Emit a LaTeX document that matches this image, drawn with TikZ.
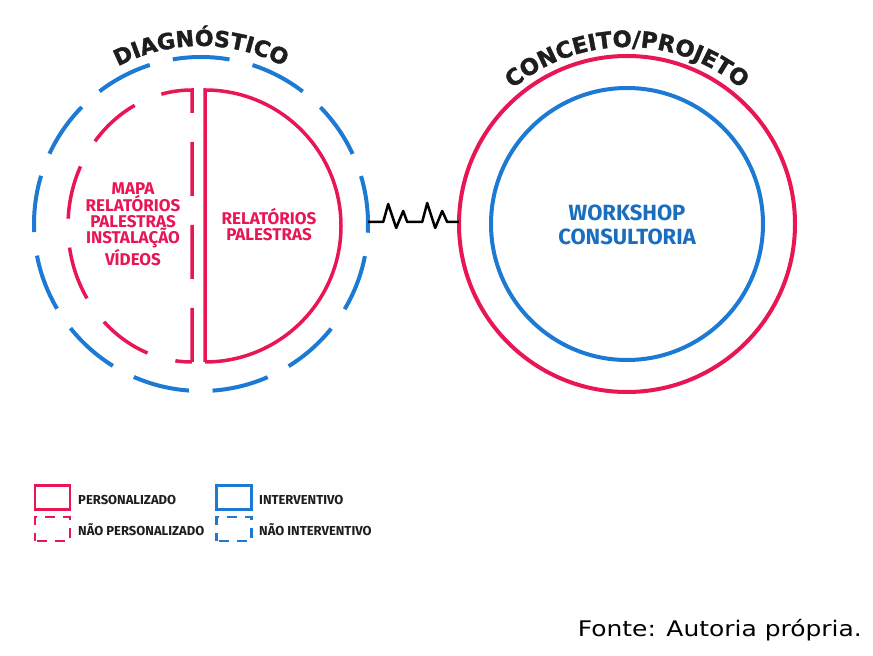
\documentclass[tikz,border=0pt]{standalone}
\usepackage{fontspec}
\setmainfont{Fira Sans}
\newfontfamily\titlefont{DejaVu Sans}[BoldFeatures={FakeBold=1.6}]
\newfontfamily\fontefont{DejaVu Sans}
\usetikzlibrary{decorations.text}
\definecolor{rosa}{RGB}{232,22,84}
\definecolor{azul}{RGB}{28,122,212}
\definecolor{azultxt}{RGB}{25,110,190}
\definecolor{cinza}{RGB}{30,30,30}
\tikzset{
  rosaline/.style={draw=rosa, line width=3.5pt},
  azulline/.style={draw=azul, line width=4pt},
  ring/.style={circle, inner sep=0pt, draw=none},
  innertxt/.style={align=center, font=\bfseries\fontsize{17}{16}\selectfont},
  legbox/.style={rectangle, inner sep=0pt, minimum width=35pt, minimum height=24pt, line width=2.5pt},
  legtxt/.style={anchor=west, inner sep=0pt, text=cinza, font=\bfseries\fontsize{13}{13}\selectfont},
}
\begin{document}
\begin{tikzpicture}[x=1pt,y=1pt]
\useasboundingbox (0,0) rectangle (873,656);
\fill[white] (0,0) rectangle (873,656);

% ---------- DIAGNOSTICO ----------
\node[ring, minimum size=334pt] (diag) at (201,432) {};
\draw[azulline, dash pattern=on 57pt off 23.7pt]
  ([shift={(-2.88:167)}]diag.center) arc[start angle=-2.88, delta angle=360, radius=167];
% personalised half (right)
\draw[rosaline] (205,294) -- (205,566) arc[start angle=90, end angle=-90, radius=136];
% non personalised half (left)
\draw[rosaline, dash pattern=on 54pt off 29pt]
  (192,294) -- (192,566) arc[start angle=90, end angle=270, x radius=124, y radius=136];

\node[innertxt, text=rosa] (ltxt) at (133,432) {MAPA\\RELATÓRIOS\\PALESTRAS\\INSTALAÇÃO\\VÍDEOS};
\node[innertxt, text=rosa] (rtxt) at (269,431) {RELATÓRIOS\\PALESTRAS};

\path[decorate, decoration={text along path, text align=center,
  text={|\titlefont\bfseries\fontsize{22}{22}\selectfont\color{cinza}|DIAGNÓSTICO}}]
  ([shift={(150:178)}]diag.center) arc[start angle=150, end angle=30, radius=178];

% ---------- CONCEITO/PROJETO ----------
\node[ring, minimum size=336pt] (conc) at (627,432) {};
\draw[rosaline, line width=4pt] (conc.center) circle[radius=168];
\draw[azulline] (conc.center) circle[radius=136];
\node[align=center, text=azultxt, font=\bfseries\fontsize{22}{24}\selectfont] (wtxt) at (627,431) {WORKSHOP\\CONSULTORIA};

\path[decorate, decoration={text along path, text align=center,
  text={|\titlefont\bfseries\fontsize{22.5}{23}\selectfont\color{cinza}|CONCEITO/PROJETO}}]
  ([shift={(150:177)}]conc.center) arc[start angle=150, end angle=30, radius=177];

% ---------- zigzag connector ----------
\draw[black, line width=2.5pt, line join=round]
  ([yshift=2pt]diag.east) -- ++(15,0) -- ++(5,18) -- ++(8,-24) -- ++(7,17) -- ++(4,-11)
  -- ++(15,0) -- ++(5,19) -- ++(8,-25) -- ++(7,17) -- ++(5,-11) -- ([yshift=2pt]conc.west);

% ---------- legend ----------
\node[legbox, draw=rosa] (lp) at (52.5,158.5) {};
\node[legbox, draw=rosa, dash pattern=on 10pt off 8pt, dash phase=-2pt] (lnp) at (52.5,127) {};
\node[legbox, draw=azul] (li) at (234,158.5) {};
\node[legbox, draw=azul, dash pattern=on 10pt off 8pt, dash phase=-2pt] (lni) at (234,127) {};
\node[legtxt] (tp) at (78,156) {PERSONALIZADO};
\node[legtxt] (tnp) at (78,126) {NÃO PERSONALIZADO};
\node[legtxt] (ti) at (259,156) {INTERVENTIVO};
\node[legtxt] (tni) at (259,126) {NÃO INTERVENTIVO};

% ---------- source ----------
\node[anchor=base east, inner sep=0pt] (fonte) at (862,19)
  {\scalebox{1.16}[1]{\fontefont\fontsize{21.5}{24}\selectfont Fonte: Autoria própria.}};
\end{tikzpicture}
\end{document}
